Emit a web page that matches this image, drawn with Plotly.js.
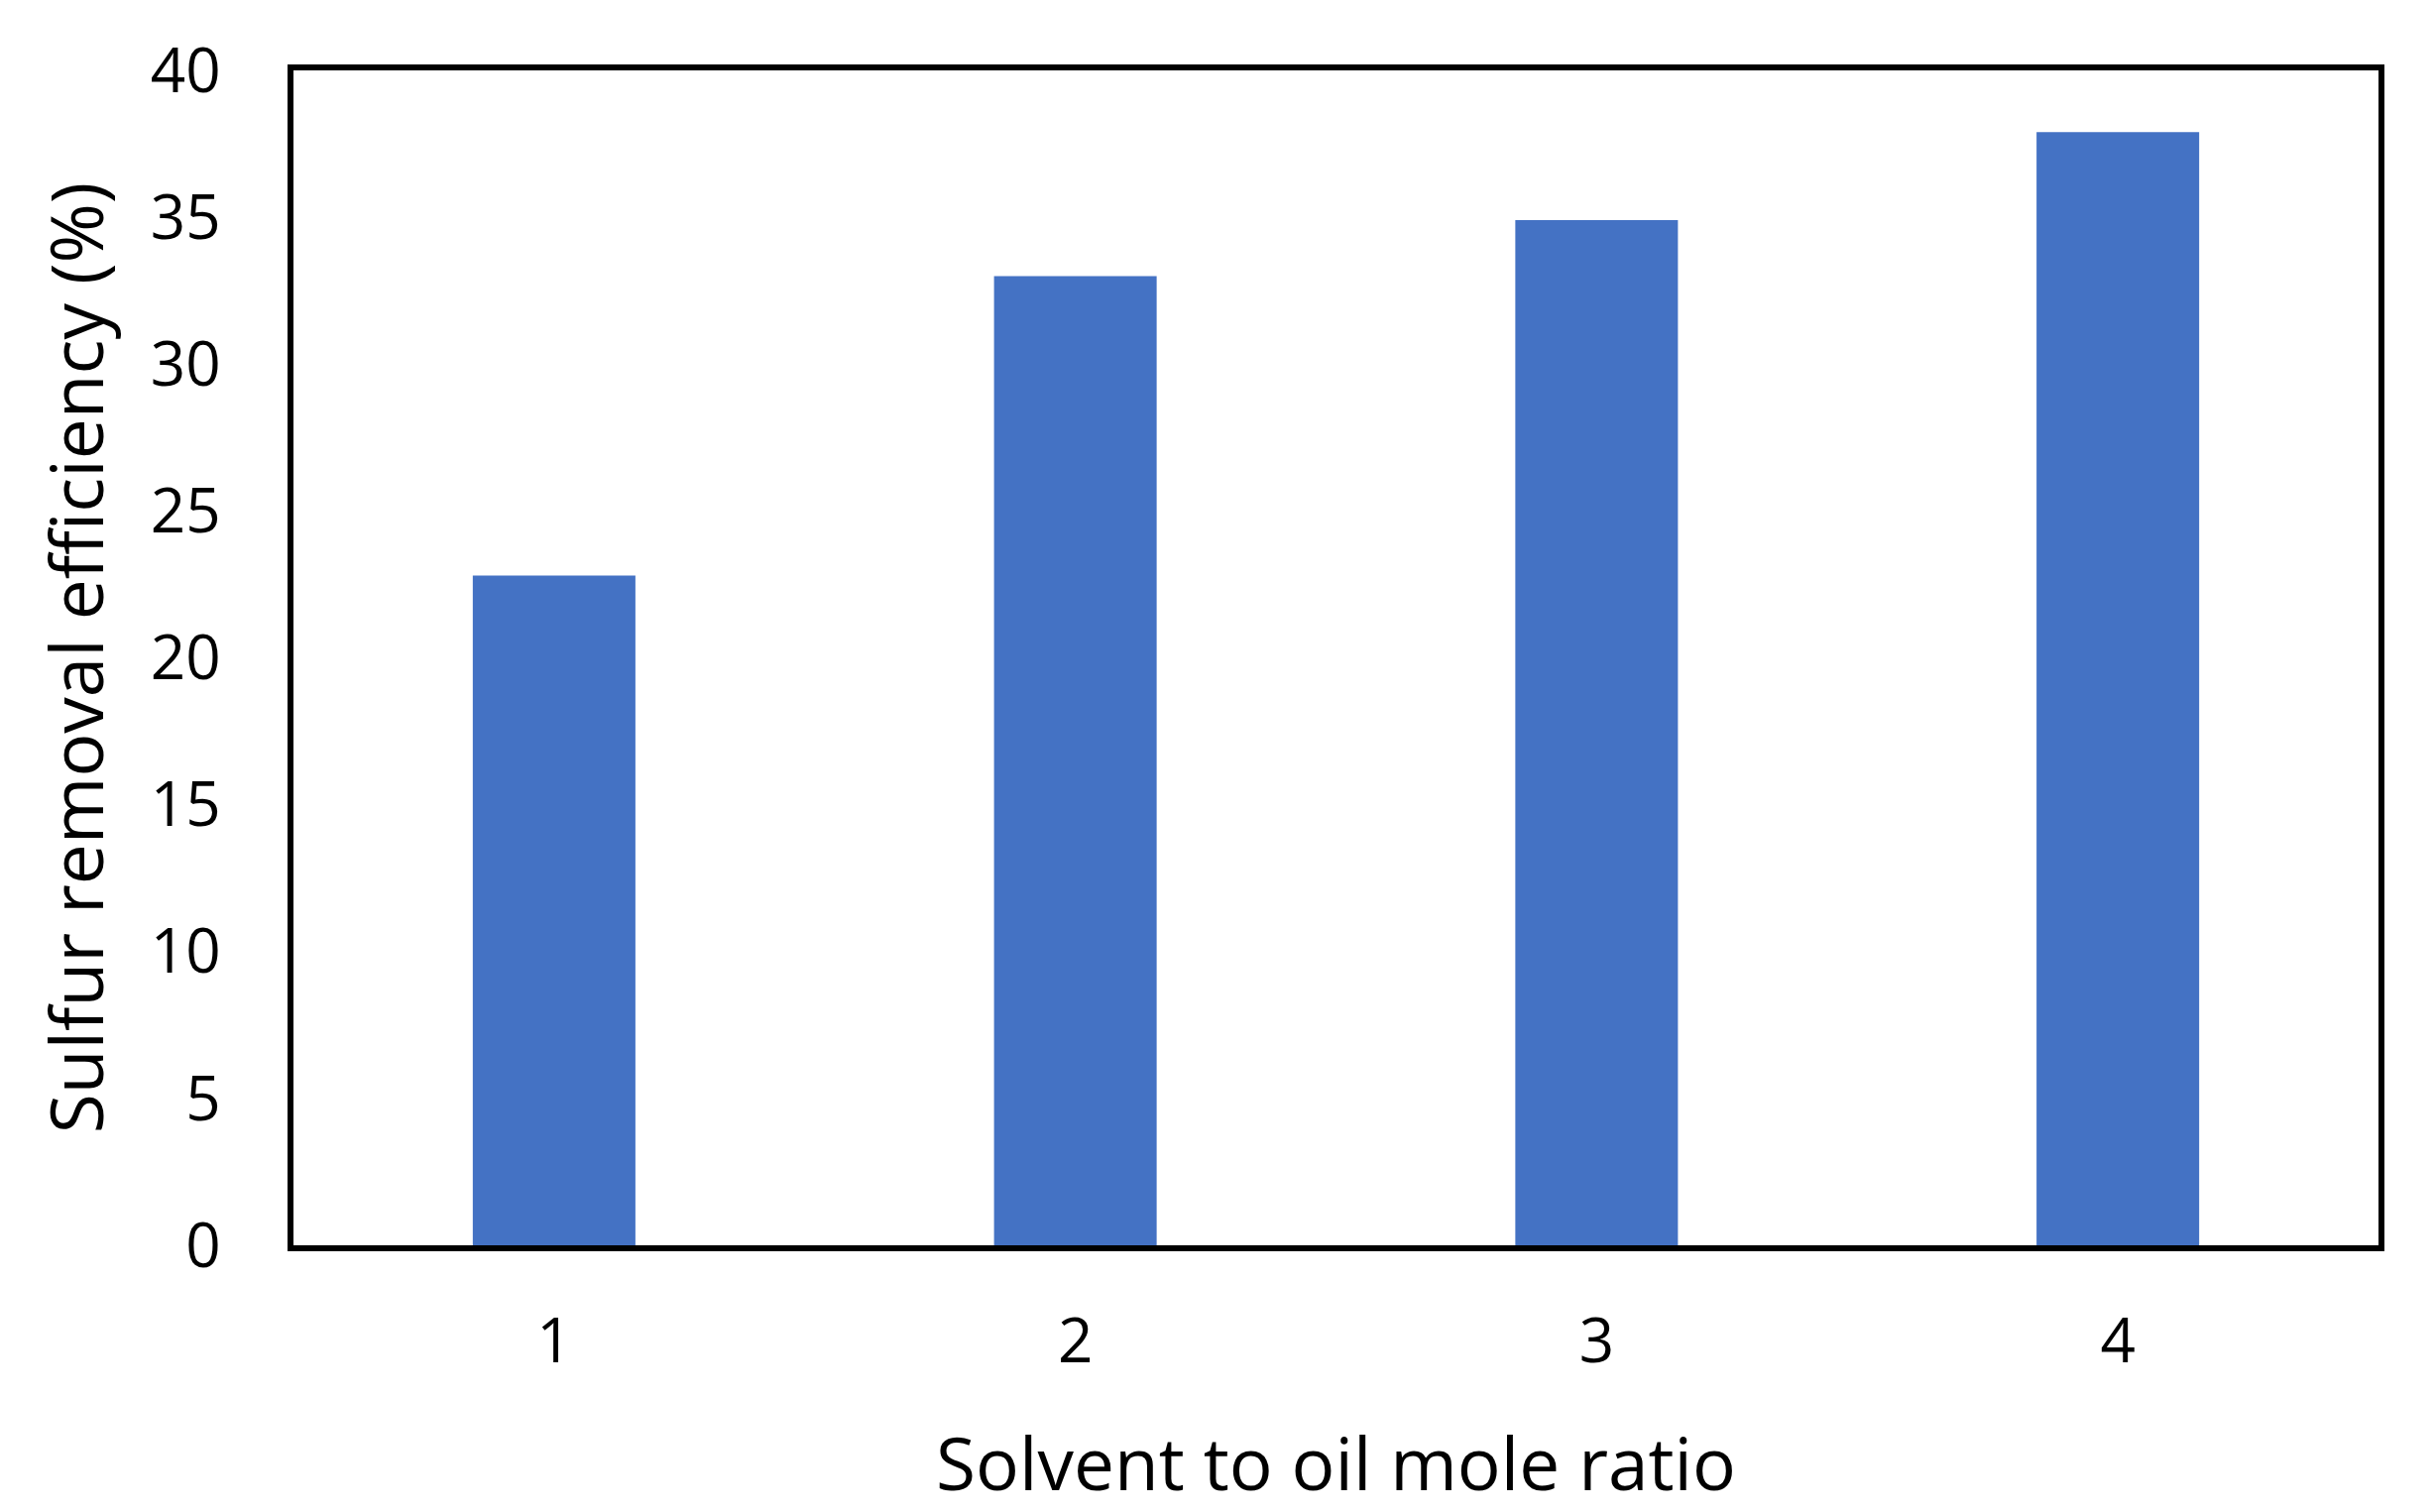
<!DOCTYPE html>
<html>
<head>
<meta charset="utf-8">
<script src="https://cdn.plot.ly/plotly-3.0.1.min.js"></script>
<style>
  html, body { margin: 0; padding: 0; background: #ffffff; }
  #chart { width: 2456px; height: 1525px; }
</style>
</head>
<body>
<div id="chart"></div>
<script>
const categories = ['1', '2', '3', '4'];
const removalEfficiency = [22.8, 33.0, 34.9, 37.9];
const yTickValues = [0, 5, 10, 15, 20, 25, 30, 35, 40];
const xTitle = 'Solvent to oil mole ratio';
const yTitle = 'Sulfur removal efficiency (%)';

const fontFamily = '"Open Sans", "Noto Sans", "DejaVu Sans", sans-serif';

const trace = {
  type: 'bar',
  x: categories,
  y: removalEfficiency,
  marker: { color: '#4472C4', line: { width: 0 } },
  hoverinfo: 'x+y'
};

const layout = {
  width: 2456,
  height: 1525,
  paper_bgcolor: '#ffffff',
  plot_bgcolor: '#ffffff',
  margin: { l: 296, r: 57, t: 71, b: 269 },
  showlegend: false,
  bargap: 0.688,
  font: { family: fontFamily, color: '#000000', size: 62 },
  xaxis: {
    type: 'category',
    categoryorder: 'array',
    categoryarray: categories,
    showline: true,
    mirror: true,
    linecolor: '#000000',
    linewidth: 6,
    showgrid: false,
    zeroline: false,
    ticks: '',
    ticklabelstandoff: 38,
    tickfont: { family: fontFamily, size: 62, color: '#000000' },
    title: { text: xTitle, font: { family: fontFamily, size: 73, color: '#000000' }, standoff: 62 },
    automargin: false
  },
  yaxis: {
    range: [0, 40],
    tickvals: yTickValues,
    showline: true,
    mirror: true,
    linecolor: '#000000',
    linewidth: 6,
    showgrid: false,
    zeroline: false,
    ticks: '',
    ticklabelstandoff: 55,
    tickfont: { family: fontFamily, size: 62, color: '#000000' },
    title: { text: yTitle, font: { family: fontFamily, size: 73, color: '#000000' }, standoff: 25 },
    automargin: false
  }
};

Plotly.newPlot('chart', [trace], layout, { displayModeBar: false, staticPlot: true });
</script>
</body>
</html>
